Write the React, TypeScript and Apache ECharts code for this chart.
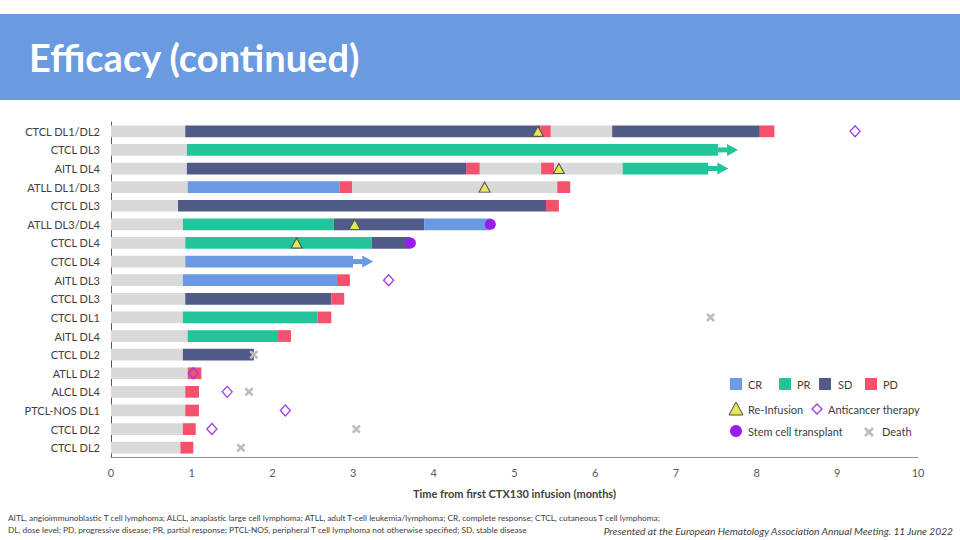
import React, { useEffect, useRef } from "react";
import * as echarts from "echarts";

const categories = [
  "CTCL DL1/DL2", "CTCL DL3", "AITL DL4", "ATLL DL1/DL3", "CTCL DL3", "ATLL DL3/DL4",
  "CTCL DL4", "CTCL DL4", "AITL DL3", "CTCL DL3", "CTCL DL1", "AITL DL4",
  "CTCL DL2", "ATLL DL2", "ALCL DL4", "PTCL-NOS DL1", "CTCL DL2", "CTCL DL2",
];

// Each row: consecutive segments [end month, status]; N = no response assessed (grey)
const timeline: [number, string][][] = [
  [[0.92, "N"], [5.32, "SD"], [5.45, "PD"], [6.21, "N"], [8.04, "SD"], [8.22, "PD"]],
  [[0.94, "N"], [7.52, "PR"]],
  [[0.94, "N"], [4.40, "SD"], [4.57, "PD"], [5.33, "N"], [5.49, "PD"], [6.34, "N"], [7.40, "PR"]],
  [[0.95, "N"], [2.83, "CR"], [2.99, "PD"], [5.53, "N"], [5.69, "PD"]],
  [[0.83, "N"], [5.39, "SD"], [5.55, "PD"]],
  [[0.89, "N"], [2.76, "PR"], [3.88, "SD"], [4.70, "CR"]],
  [[0.92, "N"], [3.23, "PR"], [3.71, "SD"]],
  [[0.92, "N"], [3.00, "CR"]],
  [[0.89, "N"], [2.80, "CR"], [2.96, "PD"]],
  [[0.92, "N"], [2.73, "SD"], [2.89, "PD"]],
  [[0.89, "N"], [2.56, "PR"], [2.73, "PD"]],
  [[0.95, "N"], [2.07, "PR"], [2.23, "PD"]],
  [[0.89, "N"], [1.77, "SD"]],
  [[0.95, "N"], [1.12, "PD"]],
  [[0.92, "N"], [1.09, "PD"]],
  [[0.92, "N"], [1.09, "PD"]],
  [[0.89, "N"], [1.05, "PD"]],
  [[0.86, "N"], [1.02, "PD"]],
];

// ongoing response arrows: [row, arrow tip month]
const ongoing: [number, number][] = [[1, 7.77], [2, 7.65], [7, 3.25]];

// markers: [month, row]
const reinfusion: [number, number][] = [[5.29, 0], [5.55, 2], [4.63, 3], [3.02, 5], [2.30, 6]];
const anticancer: [number, number][] = [[9.22, 0], [3.44, 8], [1.02, 13], [1.44, 14], [2.16, 15], [1.25, 16]];
const transplant: [number, number][] = [[4.70, 5], [3.71, 6]];
const death: [number, number][] = [[1.77, 12], [7.43, 10], [1.71, 14], [3.04, 16], [1.61, 17]];

const xTicks = [0, 1, 2, 3, 4, 5, 6, 7, 8, 9, 10];

const colors: Record<string, string> = {
  N: "#D9D9D9",
  CR: "#6A9BE2",
  PR: "#22C49A",
  SD: "#515B88",
  PD: "#F4516D",
};

const FONT = "Lato, 'Open Sans', sans-serif";

const deathPath =
  "path://M2,0 L5,3 L8,0 L10,2 L7,5 L10,8 L8,10 L5,7 L2,10 L0,8 L3,5 L0,2 Z";

export default function App() {
  const ref = useRef<HTMLDivElement>(null);

  useEffect(() => {
    if (!ref.current) return;
    const chart = echarts.init(ref.current, null, { renderer: "svg" });

    const segData: number[][] = [];
    const statusKeys: string[] = [];
    timeline.forEach((row, r) => {
      let start = 0;
      row.forEach(([end, st]) => {
        segData.push([start, end, r, statusKeys.length]);
        statusKeys.push(st);
        start = end;
      });
    });

    const arrowData = ongoing.map(([r, tip]) => {
      const row = timeline[r];
      const last = row[row.length - 1];
      return [last[0], tip, r, Object.keys(colors).indexOf(last[1])];
    });

    const legendY1 = 384, legendY2 = 409, legendY3 = 431;
    const legendText = (x: number, y: number, t: string) => ({
      type: "text", x, y,
      style: { text: t, fill: "#404040", font: `11px ${FONT}`, textVerticalAlign: "middle" },
    });
    const square = (x: number, y: number, c: string) => ({
      type: "rect", shape: { x, y: y - 6, width: 12, height: 12 }, style: { fill: c },
    });

    chart.setOption({
      animation: false,
      textStyle: { fontFamily: FONT },
      grid: { left: 111, right: 42, top: 122, bottom: 83, containLabel: false },
      xAxis: {
        type: "value",
        min: 0,
        max: 10,
        interval: 1,
        splitLine: { show: false },
        axisLine: { show: true, lineStyle: { color: "#8C8C8C", width: 1 } },
        axisTick: { show: false },
        axisLabel: {
          color: "#595959", fontSize: 11, margin: 10,
          formatter: (v: number) => (xTicks.includes(v) ? String(v) : ""),
        },
        name: "Time from first CTX130 infusion (months)",
        nameLocation: "middle",
        nameGap: 31,
        nameTextStyle: { color: "#404040", fontSize: 11, fontWeight: "bold" },
      },
      yAxis: {
        type: "category",
        data: categories,
        inverse: true,
        axisLine: { show: true, lineStyle: { color: "#595959", width: 1 } },
        axisTick: { show: false },
        axisLabel: { color: "#404040", fontSize: 11, margin: 11 },
        splitLine: { show: false },
      },
      series: [
        {
          type: "custom",
          data: segData,
          encode: { x: [0, 1], y: 2 },
          renderItem: (params: any, api: any) => {
            const p0 = api.coord([api.value(0), api.value(2)]);
            const p1 = api.coord([api.value(1), api.value(2)]);
            const h = api.size([0, 1])[1] * 0.63;
            const st = statusKeys[api.value(3)];
            return {
              type: "rect",
              shape: { x: p0[0], y: p0[1] - h / 2, width: p1[0] - p0[0], height: h },
              style: { fill: colors[st] },
            };
          },
          z: 1,
        },
        {
          type: "custom",
          data: arrowData,
          encode: { x: [0, 1], y: 2 },
          renderItem: (params: any, api: any) => {
            const p0 = api.coord([api.value(0), api.value(2)]);
            const p1 = api.coord([api.value(1), api.value(2)]);
            const c = colors[Object.keys(colors)[api.value(3)]];
            const head = 11;
            const cy = p0[1];
            return {
              type: "group",
              children: [
                {
                  type: "rect",
                  shape: { x: p0[0] - 0.5, y: cy - 2.5, width: p1[0] - head - p0[0] + 1, height: 5 },
                  style: { fill: c },
                },
                {
                  type: "polygon",
                  shape: { points: [[p1[0] - head, cy - 6], [p1[0], cy], [p1[0] - head, cy + 6]] },
                  style: { fill: c },
                },
              ],
            };
          },
          z: 1,
        },
        {
          type: "scatter",
          data: transplant,
          symbol: "circle",
          symbolSize: 11,
          itemStyle: { color: "#9B1BF0", opacity: 1 },
          z: 3,
        },
        {
          type: "scatter",
          data: reinfusion,
          symbol: "triangle",
          symbolSize: [11, 10],
          symbolOffset: [0, 0],
          itemStyle: { color: "#E6E65A", borderColor: "#4D4D4D", borderWidth: 1, opacity: 1 },
          z: 4,
        },
        {
          type: "scatter",
          data: anticancer,
          symbol: "diamond",
          symbolSize: [10, 11],
          itemStyle: { color: "rgba(0,0,0,0)", borderColor: "#9A3BE6", borderWidth: 1.3, opacity: 1 },
          z: 4,
        },
        {
          type: "scatter",
          data: death,
          symbol: deathPath,
          symbolSize: 9,
          itemStyle: { color: "#BDBDBD", opacity: 1 },
          z: 4,
        },
      ],
      graphic: [
        { type: "rect", shape: { x: 0, y: 14, width: 960, height: 86 }, style: { fill: "#6A9AE0" }, z: -1 },
        {
          type: "text", x: 29, y: 57,
          style: {
            text: "Efficacy (continued)", fill: "#FFFFFF",
            font: `bold 38px ${FONT}`, textVerticalAlign: "middle",
          },
        },
        square(730, legendY1, colors.CR), legendText(748, legendY1, "CR"),
        square(779, legendY1, colors.PR), legendText(797, legendY1, "PR"),
        square(819, legendY1, colors.SD), legendText(838, legendY1, "SD"),
        square(865, legendY1, colors.PD), legendText(883, legendY1, "PD"),
        {
          type: "polygon",
          shape: { points: [[736, legendY2 - 7], [743, legendY2 + 6], [729, legendY2 + 6]] },
          style: { fill: "#E6E65A", stroke: "#4D4D4D", lineWidth: 1 },
        },
        legendText(748, legendY2, "Re-Infusion"),
        {
          type: "polygon",
          shape: { points: [[817, legendY2 - 5], [822, legendY2], [817, legendY2 + 5], [812, legendY2]] },
          style: { fill: "none", stroke: "#9A3BE6", lineWidth: 1.3 },
        },
        legendText(828, legendY2, "Anticancer therapy"),
        { type: "circle", shape: { cx: 736, cy: legendY3, r: 6 }, style: { fill: "#9B1BF0" } },
        legendText(748, legendY3, "Stem cell transplant"),
        {
          type: "polygon",
          shape: {
            points: [
              [866, legendY3 - 4], [869, legendY3 - 1], [872, legendY3 - 4], [874, legendY3 - 2],
              [871, legendY3 + 1], [874, legendY3 + 4], [872, legendY3 + 6], [869, legendY3 + 3],
              [866, legendY3 + 6], [864, legendY3 + 4], [867, legendY3 + 1], [864, legendY3 - 2],
            ],
          },
          style: { fill: "#BDBDBD" },
        },
        legendText(882, legendY3, "Death"),
        {
          type: "text", x: 8, y: 518,
          style: {
            text: "AITL, angioimmunoblastic T cell lymphoma; ALCL, anaplastic large cell lymphoma; ATLL, adult T-cell leukemia/lymphoma; CR, complete response; CTCL, cutaneous T cell lymphoma;",
            fill: "#404040", font: `8.3px ${FONT}`, textVerticalAlign: "middle",
          },
        },
        {
          type: "text", x: 8, y: 530,
          style: {
            text: "DL, dose level; PD, progressive disease; PR, partial response; PTCL-NOS, peripheral T cell lymphoma not otherwise specified; SD, stable disease",
            fill: "#404040", font: `8.3px ${FONT}`, textVerticalAlign: "middle",
          },
        },
        {
          type: "text", x: 953, y: 531,
          style: {
            text: "Presented at the European Hematology Association Annual Meeting. 11 June 2022",
            fill: "#404040", font: `italic 10.2px ${FONT}`, textAlign: "right", textVerticalAlign: "middle",
          },
        },
      ],
    });

    return () => chart.dispose();
  }, []);

  return (
    <div
      ref={ref}
      style={{ position: "fixed", left: 0, top: 0, width: 960, height: 540, background: "#FFFFFF" }}
    />
  );
}
